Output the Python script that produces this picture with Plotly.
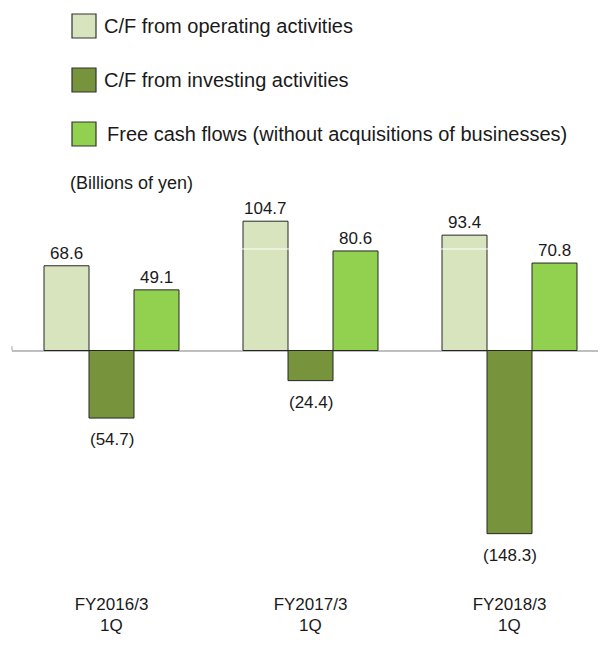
import plotly.graph_objects as go

# ---- data ----
periods = ["FY2016/3", "FY2017/3", "FY2018/3"]
quarter = "1Q"
series_names = [
    "C/F from operating activities",
    "C/F from investing activities",
    "Free cash flows (without acquisitions of businesses)",
]
operating = [68.6, 104.7, 93.4]
investing = [-54.7, -24.4, -148.3]
free_cf = [49.1, 80.6, 70.8]
unit_label = "(Billions of yen)"

# ---- styles ----
colors = ["#d7e4bd", "#77933c", "#92d050"]
FONT = "Arial, Liberation Sans, sans-serif"
W, H = 606, 650
OFF = 8  # page body margin
L, R, T, B = 4, 0, 187, 70
PW, PH = W - L - R, H - T - B
BAR_PX = 45
CAT_PX = 199
X_SPAN = PW / CAT_PX


def xp(px):  # screen px -> paper x
    return (px - OFF - L) / PW


def yp(py):  # screen px -> paper y
    return (H - B - (py - OFF)) / PH


def fmt(v):
    return f"({abs(v):.1f})" if v < 0 else f"{v:.1f}"


all_series = [operating, investing, free_cf]

fig = go.Figure()
for name, vals, col in zip(series_names, all_series, colors):
    fig.add_trace(go.Bar(
        name=name, x=periods, y=vals,
        marker=dict(color=col, line=dict(color="#262626", width=1)),
        showlegend=False, hoverinfo="skip",
    ))

annotations = []
for i, vals in enumerate(all_series):
    for cat, v in zip(periods, vals):
        annotations.append(dict(
            x=cat, y=v, xref="x", yref="y", text=fmt(v), showarrow=False,
            xshift=(i - 1) * BAR_PX,
            yanchor="bottom" if v >= 0 else "top",
            yshift=1 if v >= 0 else -10,
            font=dict(size=17, color="#1a1a1a", family=FONT),
        ))

# second line of the category labels
for cat in periods:
    annotations.append(dict(
        x=cat, y=yp(625), xref="x", yref="paper", text=quarter,
        showarrow=False, yanchor="middle",
        font=dict(size=17, color="#1a1a1a", family=FONT),
    ))

# manual legend with large swatches
shapes = []
legend_rows = [26, 80, 134]
for k, (name, col, cy) in enumerate(zip(series_names, colors, legend_rows)):
    shapes.append(dict(
        type="rect", xref="paper", yref="paper",
        x0=xp(72), x1=xp(96), y0=yp(cy - 12), y1=yp(cy + 12),
        fillcolor=col, line=dict(color="#333333", width=1.2),
    ))
    annotations.append(dict(
        x=xp(102 if k < 2 else 105), y=yp(cy), xref="paper", yref="paper",
        text=name, showarrow=False, xanchor="left", yanchor="middle",
        font=dict(size=20, color="#1a1a1a", family=FONT),
    ))

annotations.append(dict(
    x=xp(68), y=yp(183), xref="paper", yref="paper", text=unit_label,
    showarrow=False, xanchor="left", yanchor="middle",
    font=dict(size=18, color="#1a1a1a", family=FONT),
))

# faint white guide line visible across the tallest bars
shapes.append(dict(
    type="line", xref="paper", yref="y", x0=0, x1=1, y0=82.2, y1=82.2,
    line=dict(color="white", width=1), layer="above",
))
# small tick at the left end of the zero line
shapes.append(dict(
    type="line", xref="paper", yref="y", x0=0, x1=0, y0=0, y1=3.5,
    line=dict(color="#bfbfbf", width=1.5),
))

zero_py = 350.5 - OFF
scale = 1.235
y_top = (zero_py - T) / scale
y_bot = -(H - B - zero_py) / scale

fig.update_layout(
    width=W, height=H,
    margin=dict(l=L, r=R, t=T, b=B),
    paper_bgcolor="white", plot_bgcolor="white",
    barmode="group", bargap=1 - 3 * BAR_PX / CAT_PX, bargroupgap=0,
    font=dict(family=FONT, color="#1a1a1a"),
    xaxis=dict(
        range=[-0.5, -0.5 + X_SPAN], showgrid=False, zeroline=False, showline=False,
        ticks="", tickfont=dict(size=17, family=FONT, color="#1a1a1a"),
        ticklabelstandoff=4,
    ),
    yaxis=dict(
        range=[y_bot, y_top], showgrid=False, showticklabels=False,
        zeroline=True, zerolinecolor="#bfbfbf", zerolinewidth=2,
    ),
    annotations=annotations,
    shapes=shapes,
)

fig.write_html("out.html")
